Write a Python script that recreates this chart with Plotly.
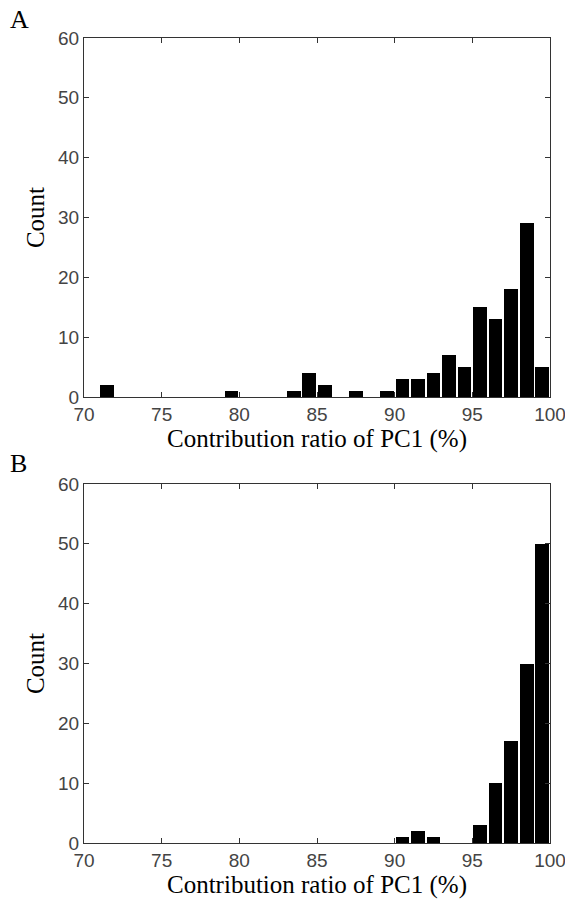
import plotly.graph_objects as go

# Panel A
bins_a = [71.5, 79.5, 83.5, 84.5, 85.5, 87.5, 89.5, 90.5, 91.5, 92.5, 93.5, 94.5, 95.5, 96.5, 97.5, 98.5, 99.5]
counts_a = [2, 1, 1, 4, 2, 1, 1, 3, 3, 4, 7, 5, 15, 13, 18, 29, 5]
# Panel B
bins_b = [90.5, 91.5, 92.5, 95.5, 96.5, 97.5, 98.5, 99.5]
counts_b = [1, 2, 1, 3, 10, 17, 30, 50]

x_ticks = [70, 75, 80, 85, 90, 95, 100]
y_ticks = [0, 10, 20, 30, 40, 50, 60]
x_title = "Contribution ratio of PC1 (%)"
y_title = "Count"
panel_labels = ["A", "B"]

W, H = 565, 899
fig = go.Figure()
fig.add_trace(go.Bar(x=bins_a, y=counts_a, width=0.88, marker=dict(color="black", line=dict(width=0)),
                     xaxis="x", yaxis="y", showlegend=False))
fig.add_trace(go.Bar(x=bins_b, y=counts_b, width=0.88, marker=dict(color="black", line=dict(width=0)),
                     xaxis="x2", yaxis="y2", showlegend=False))

tickfont = dict(family="Liberation Sans, Arial, sans-serif", size=19, color="#444")
titlefont = dict(family="Liberation Serif, Times New Roman, serif", size=25, color="black")

def xax(anchor):
    return dict(range=[70, 100], tickvals=x_ticks, ticks="inside", ticklen=5, tickcolor="#333",
                showline=True, linecolor="#333", linewidth=1, mirror="ticks", showgrid=False,
                zeroline=False, tickfont=tickfont, anchor=anchor, automargin=False,
                ticklabeloverflow="allow",
                domain=[84 / W, 550 / W], title=dict(text=x_title, font=titlefont, standoff=0))

def yax(anchor, d):
    return dict(range=[0, 60], tickvals=y_ticks, ticks="inside", ticklen=5, tickcolor="#333",
                showline=True, linecolor="#333", linewidth=1, mirror="ticks", showgrid=False,
                zeroline=False, tickfont=tickfont, anchor=anchor, domain=d, automargin=False,
                ticklabeloverflow="allow",
                title=dict(text=y_title, font=titlefont, standoff=6))

fig.update_layout(
    width=W, height=H, margin=dict(l=0, r=0, t=0, b=0, autoexpand=False),
    paper_bgcolor="white", plot_bgcolor="white", bargap=0,
    xaxis=xax("y"), yaxis=yax("x", [1 - 397 / H, 1 - 38 / H]),
    xaxis2=xax("y2"), yaxis2=yax("x2", [1 - 843 / H, 1 - 484 / H]),
    annotations=[
        dict(text=panel_labels[0], x=8 / W, y=1 - 19 / H, xref="paper", yref="paper", showarrow=False,
             xanchor="left", yanchor="middle", font=dict(family="Liberation Serif, serif", size=26, color="black")),
        dict(text=panel_labels[1], x=8 / W, y=1 - 463 / H, xref="paper", yref="paper", showarrow=False,
             xanchor="left", yanchor="middle", font=dict(family="Liberation Serif, serif", size=26, color="black")),
    ],
)
fig.write_html("out.html", config={"displayModeBar": False},
               post_script="document.body.style.margin='0';document.body.style.overflow='hidden';")
